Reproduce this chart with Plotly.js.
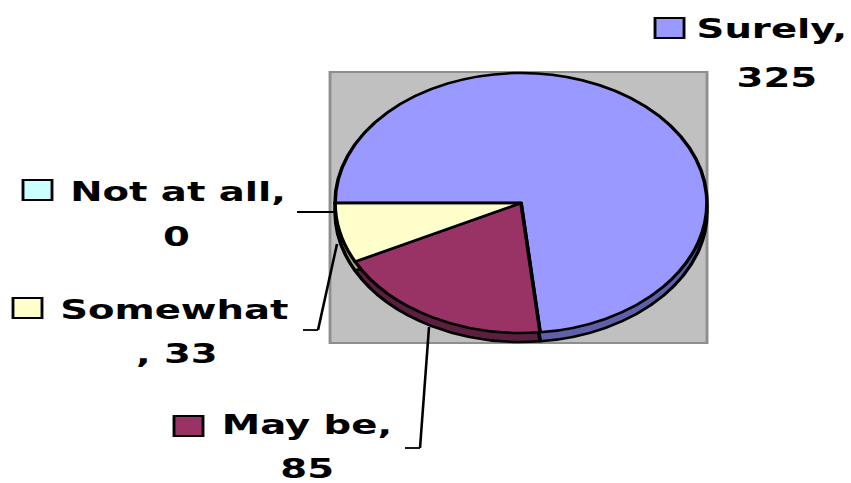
<!DOCTYPE html>
<html>
<head>
<meta charset="utf-8">
<script src="https://cdn.plot.ly/plotly-3.0.1.min.js"></script>
<style>
  html, body { margin: 0; padding: 0; background: #ffffff; overflow: hidden; }
  #chart { width: 595px; height: 483px; transform-origin: 0 0; transform: scale(1.4303, 1); }
</style>
</head>
<body>
<div id="chart"></div>
<script>
// ---- data ----
const categories = ['Surely', 'May be', 'Somewhat', 'Not at all'];
const values = [325, 85, 33, 0];
const topColors = ['#9999FF', '#993366', '#FFFFCC', '#CCFFFF'];
const sideColors = ['#5F5FAA', '#5C1F40', '#A6A684', '#84A6A6'];
// label line 1 / line 2 (Excel wraps "Somewhat, 33" before the comma)
const labelLine1 = ['Surely,', 'May be,', 'Somewhat', 'Not at all,'];
const labelLine2 = ['325', '85', ', 33', '0'];

// ---- layout helpers (reference pixel -> paper) ----
const REFW = 851, REFH = 483, W = 595;
const px = x => x / REFW;
const py = y => 1 - y / REFH;

// label placement (reference px): centers of line1 / line2, legend key box
const labelPos = [
  {l1: [771, 28], l2: [776, 78], key: [655, 18]},
  {l1: [307, 424], l2: [308, 468], key: [174, 416]},
  {l1: [174, 309], l2: [177, 353], key: [13, 298]},
  {l1: [178, 191], l2: [177, 237], key: [23, 180]}
];
const leaderPaths = [
  null,
  [[405, 448], [420, 448], [429, 327]],
  [[303, 330], [318, 330], [337, 244]],
  [[297, 212], [334, 212]]
];

// pie geometry: circle of radius 130 (unscaled px), centered at ref (521, 203)
const cxRef = 521, cyRef = 203, r = 130, depth = 9;
const halfW = r / W; // paper units in unscaled space
const domX = [px(cxRef) - halfW, px(cxRef) + halfW];

const common = {
  type: 'pie',
  labels: categories,
  values: values,
  sort: false,
  direction: 'clockwise',
  rotation: -90,
  textinfo: 'none',
  hoverinfo: 'label+value',
  showlegend: false
};

const sideTrace = Object.assign({}, common, {
  name: 'side',
  domain: {x: domX, y: [py(cyRef + r + depth), py(cyRef - r + depth)]},
  marker: {colors: sideColors, line: {color: '#000000', width: 2.5}}
});
const topTrace = Object.assign({}, common, {
  name: 'top',
  domain: {x: domX, y: [py(cyRef + r), py(cyRef - r)]},
  marker: {colors: topColors, line: {color: '#000000', width: 2.5}}
});

const font = {family: 'DejaVu Sans', size: 27, color: '#000000', weight: 'bold'};
const annotations = [];
const shapes = [{
  type: 'rect', xref: 'paper', yref: 'paper', layer: 'below',
  x0: px(330), x1: px(707), y0: py(343), y1: py(72),
  fillcolor: '#C0C0C0', line: {color: '#8E8E8E', width: 2}
}];

categories.forEach((c, i) => {
  const p = labelPos[i];
  annotations.push({xref: 'paper', yref: 'paper', x: px(p.l1[0]), y: py(p.l1[1]),
    xanchor: 'center', yanchor: 'middle', text: labelLine1[i], showarrow: false, font: font});
  annotations.push({xref: 'paper', yref: 'paper', x: px(p.l2[0]), y: py(p.l2[1]),
    xanchor: 'center', yanchor: 'middle', text: labelLine2[i], showarrow: false, font: font});
  shapes.push({type: 'rect', xref: 'paper', yref: 'paper',
    x0: px(p.key[0]), x1: px(p.key[0] + 29), y0: py(p.key[1] + 20), y1: py(p.key[1]),
    fillcolor: topColors[i], line: {color: '#000000', width: 2}});
  const lp = leaderPaths[i];
  if (lp) {
    for (let k = 0; k < lp.length - 1; k++) {
      shapes.push({type: 'line', xref: 'paper', yref: 'paper',
        x0: px(lp[k][0]), y0: py(lp[k][1]), x1: px(lp[k + 1][0]), y1: py(lp[k + 1][1]),
        line: {color: '#000000', width: 1.8}});
    }
  }
});

const layout = {
  width: W, height: REFH,
  margin: {l: 0, r: 0, t: 0, b: 0},
  paper_bgcolor: '#ffffff',
  plot_bgcolor: '#ffffff',
  showlegend: false,
  annotations: annotations,
  shapes: shapes
};

Plotly.newPlot('chart', [sideTrace, topTrace], layout, {displayModeBar: false});
</script>
</body>
</html>
